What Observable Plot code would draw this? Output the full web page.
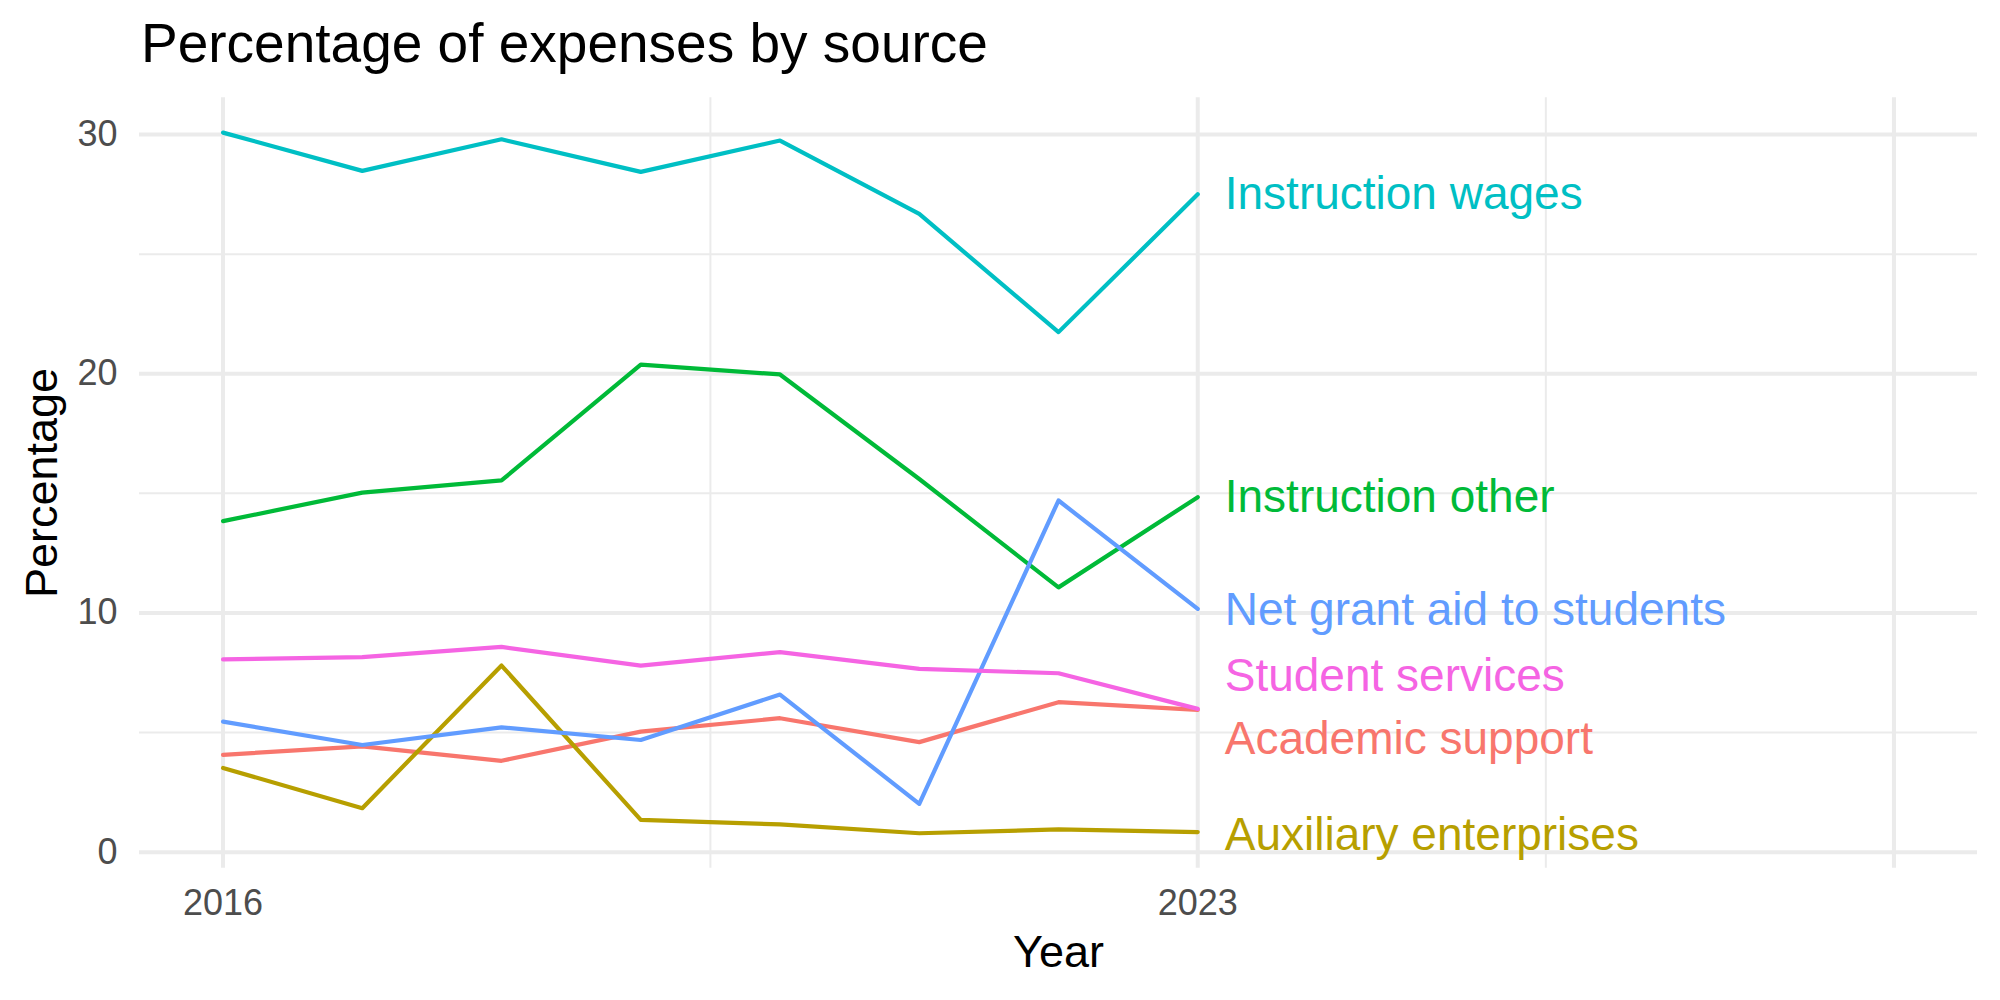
<!DOCTYPE html>
<html>
<head>
<meta charset="utf-8">
<script src="https://cdn.jsdelivr.net/npm/d3@7"></script>
<script src="https://cdn.jsdelivr.net/npm/@observablehq/plot@0.6"></script>
<style>
  html, body { margin: 0; padding: 0; background: #ffffff; }
  #title {
    box-sizing: border-box; height: 80px; padding-top: 16px; padding-left: 141px;
    font-family: "Liberation Sans", Arial, sans-serif; font-size: 55px; line-height: 1; color: #000;
    white-space: nowrap;
  }
  #chart svg { display: block; }
</style>
</head>
<body>
<div id="title">Percentage of expenses by source</div>
<div id="chart"></div>
<script>
// ---- data ----
const years = [2016, 2017, 2018, 2019, 2020, 2021, 2022, 2023];
const seriesNames = ["Academic support", "Auxiliary enterprises", "Instruction other", "Instruction wages", "Net grant aid to students", "Student services"];
const academicSupport      = [4.07, 4.42, 3.82, 5.04, 5.60, 4.60, 6.27, 5.95];
const auxiliaryEnterprises = [3.52, 1.84, 7.80, 1.35, 1.16, 0.79, 0.95, 0.84];
const instructionOther     = [13.84, 15.03, 15.54, 20.38, 19.97, 15.60, 11.07, 14.84];
const instructionWages     = [30.08, 28.48, 29.80, 28.44, 29.75, 26.68, 21.74, 27.50];
const netGrantAid          = [5.46, 4.48, 5.22, 4.69, 6.59, 2.02, 14.70, 10.17];
const studentServices      = [8.06, 8.15, 8.58, 7.80, 8.36, 7.66, 7.48, 5.99];
// end-of-line label positions (data units, slightly repelled)
const labelYear = 2023;
const labelY = [4.74, 0.70, 14.84, 27.50, 10.10, 7.37];
const colors = ["#F8766D", "#B79F00", "#00BA38", "#00BFC4", "#619CFF", "#F564E3"];
const xTickLabels = [2016, 2023];
const xMajor = [2016, 2023, 2028];
const xMinor = [2019.5, 2025.5];
const yMajor = [0, 10, 20, 30];
const yMinor = [5, 15, 25];

// ---- build table ----
const valueLists = [academicSupport, auxiliaryEnterprises, instructionOther, instructionWages, netGrantAid, studentServices];
const rows = seriesNames.flatMap((s, i) => years.map((yr, j) => ({year: yr, value: valueLists[i][j], series: s})));
const labels = seriesNames.map((s, i) => ({series: s, year: labelYear, y: labelY[i]}));

const grid = "#EBEBEB";
const chart = Plot.plot({
  width: 2000,
  height: 920,
  marginTop: 17.2,
  marginBottom: 132.3,
  marginLeft: 139,
  marginRight: 23,
  style: {fontFamily: "'Liberation Sans', Arial, sans-serif", background: "#ffffff", overflow: "visible"},
  x: {domain: [2015.4, 2028.6]},
  y: {domain: [-0.67, 31.54]},
  color: {domain: seriesNames, range: colors},
  marks: [
    Plot.gridY(yMinor, {stroke: grid, strokeOpacity: 1, strokeWidth: 2}),
    Plot.gridX(xMinor, {stroke: grid, strokeOpacity: 1, strokeWidth: 2}),
    Plot.gridY(yMajor, {stroke: grid, strokeOpacity: 1, strokeWidth: 4}),
    Plot.gridX(xMajor, {stroke: grid, strokeOpacity: 1, strokeWidth: 4}),
    Plot.axisY(yMajor, {tickSize: 0, tickPadding: 22, fontSize: 36, fill: "#4D4D4D", label: null}),
    Plot.axisX(xTickLabels, {tickSize: 0, tickPadding: 21.7, fontSize: 36, fill: "#4D4D4D", label: null, tickFormat: d => String(d)}),
    Plot.line(rows, {x: "year", y: "value", z: "series", stroke: "series", strokeWidth: 4.2, strokeLinejoin: "round"}),
    Plot.text(labels, {x: "year", y: "y", text: "series", fill: "series", textAnchor: "start", dx: 27, fontSize: 46}),
    Plot.text(["Year"], {frameAnchor: "bottom", lineAnchor: "bottom", dy: 98.3, fontSize: 45, fill: "#000"}),
    Plot.text(["Percentage"], {frameAnchor: "left", textAnchor: "middle", lineAnchor: "bottom", rotate: -90, dx: -83, fontSize: 45, fill: "#000"})
  ]
});
document.getElementById("chart").appendChild(chart);
</script>
</body>
</html>
